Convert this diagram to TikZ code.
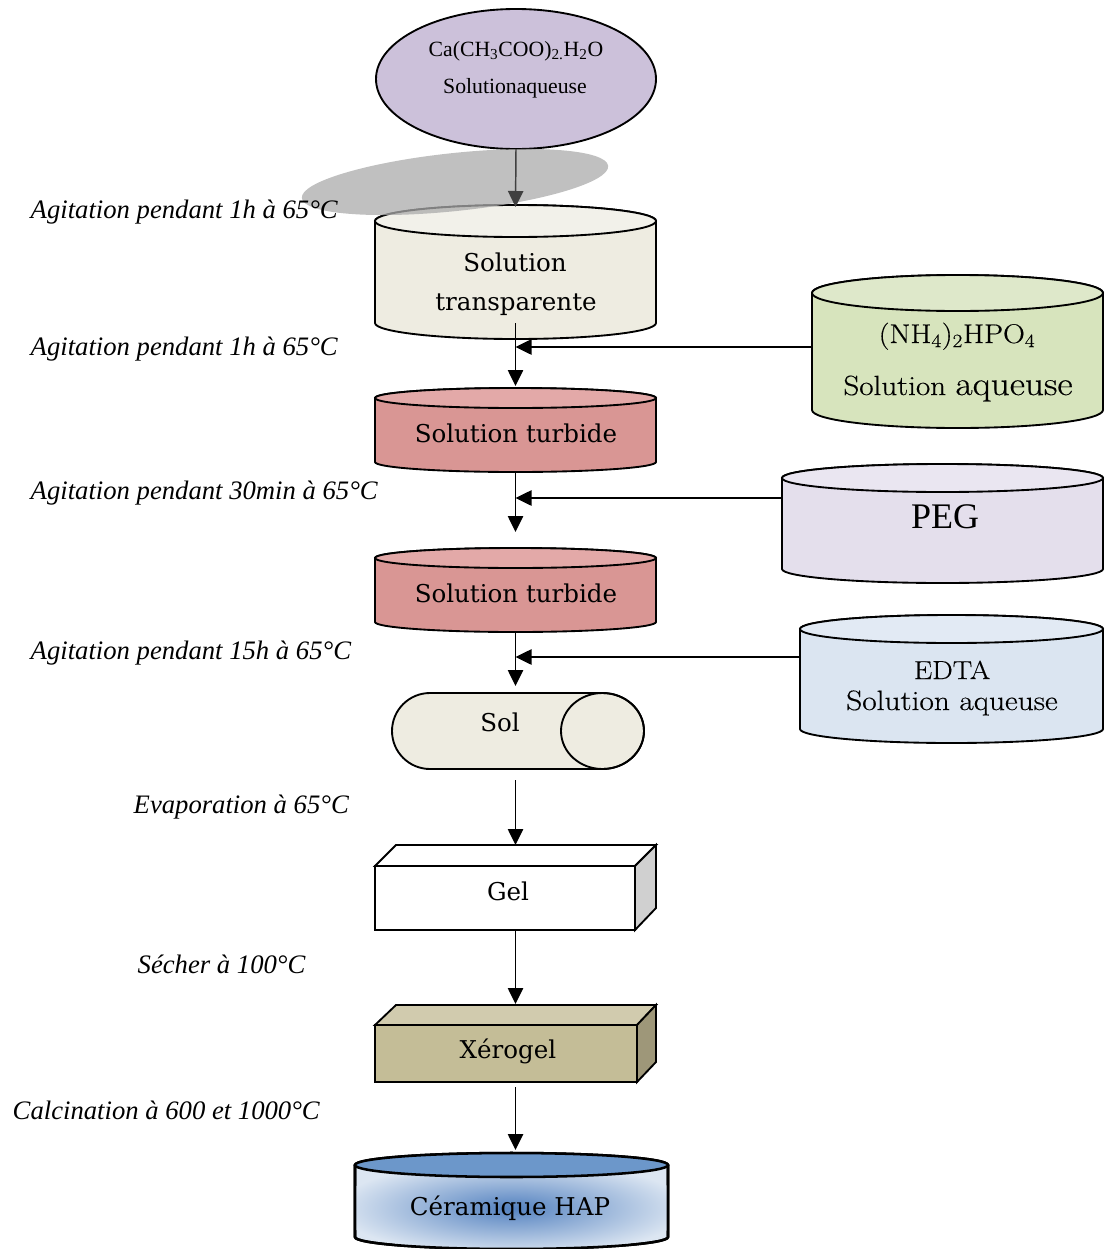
\documentclass[tikz,border=0pt]{standalone}
\usepackage{fontspec}
\newfontfamily\tms{Liberation Serif}
\newfontfamily\cmb{DejaVu Serif}
\newfontfamily\lmw{Latin Modern Roman}[FakeStretch=1.12,FakeBold=0.4]
\usetikzlibrary{arrows.meta,shapes.geometric}
\definecolor{srcfill}{HTML}{CCC1DA}
\definecolor{shadowc}{HTML}{ABABAB}
\definecolor{cylbody}{HTML}{EEECE1}
\definecolor{cyltop}{HTML}{F2F1EA}
\definecolor{turbbody}{HTML}{D99694}
\definecolor{turbtop}{HTML}{E3A9A8}
\definecolor{nhbody}{HTML}{D7E4BD}
\definecolor{nhtop}{HTML}{DEE8CA}
\definecolor{pegbody}{HTML}{E4DFEC}
\definecolor{pegtop}{HTML}{EAE6F1}
\definecolor{edtabody}{HTML}{DBE5F1}
\definecolor{edtatop}{HTML}{E2EAF4}
\definecolor{gelside}{HTML}{D0D0D0}
\definecolor{xfront}{HTML}{C4BD97}
\definecolor{xtop}{HTML}{D1CBAE}
\definecolor{xside}{HTML}{9E9779}
\definecolor{cerbody}{HTML}{DCE6F2}
\definecolor{certop}{HTML}{6C97CA}
\definecolor{cerglow}{HTML}{5482C0}
\definecolor{dkg}{HTML}{404040}
% vertical cylinder: x1 x2 ytop ybot ry body top
\newcommand{\vcyl}[7]{%
  \pgfmathsetmacro\cx{(#1+#2)/2}\pgfmathsetmacro\rx{(#2-#1)/2}%
  \draw[shp,fill=#6] (#1,#3) -- (#1,#4) arc[start angle=180,end angle=0,x radius=\rx,y radius=#5]
     -- (#2,#3) arc[start angle=0,end angle=-180,x radius=\rx,y radius=#5] -- cycle;
  \draw[shp,fill=#7] (\cx,#3) ellipse[x radius=\rx,y radius=#5];}
% invisible bounding node
\newcommand{\bnode}[5]{\node[inner sep=0pt,outer sep=0pt,draw=none,
   minimum width={(#4-#2)*0.75pt},minimum height={(#5-#3)*0.75pt}] (#1) at ({(#2+#4)/2},{(#3+#5)/2}) {};}
\begin{document}
\begin{tikzpicture}[x=0.75pt,y=-0.75pt,line width=1.1pt,
  shp/.style={line width=1.4pt},
  arr/.style={line width=1.1pt,-{Triangle[length=12pt,width=11.5pt]}},
  lbl/.style={anchor=base west,inner sep=0pt,font=\tms\itshape\fontsize{20}{24}\selectfont},
  ctxt/.style={anchor=base,inner sep=0pt,font=\cmb\fontsize{18.4}{22}\selectfont},
  ttxt/.style={anchor=base,inner sep=0pt,font=\tms\fontsize{16.3}{20}\selectfont},
  ltxt/.style={anchor=base,inner sep=0pt}]
\useasboundingbox (0,0) rectangle (1104,1249);
\fill[white] (0,0) rectangle (1104,1249);

% source ellipse
\draw[shp,fill=srcfill] (516,79) ellipse[x radius=140,y radius=70];
\node[ttxt] (tsrc1) at (516,56) {Ca(CH\textsubscript{3}COO)\textsubscript{2.}H\textsubscript{2}O};
\node[ttxt] (tsrc2) at (515,93) {Solutionaqueuse};

% cylinder 1
\vcyl{375}{656}{221}{323}{16}{cylbody}{cyltop}
\node[ctxt] (tc1a) at (515,271) {Solution};
\node[ctxt] (tc1b) at (516,310) {transparente};

% shadow
\fill[shadowc,opacity=0.75] (455,182) ellipse[x radius=154,y radius=29,rotate=6];

% turbide 1 and 2
\vcyl{375}{656}{398}{462}{10}{turbbody}{turbtop}
\node[ctxt] (tt1) at (516,442) {Solution turbide};
\vcyl{375}{656}{558}{622}{10}{turbbody}{turbtop}
\node[ctxt] (tt2) at (516,602) {Solution turbide};

% right cylinders
\vcyl{812}{1103}{293}{410}{18}{nhbody}{nhtop}
\node[ltxt,font=\lmw\fontsize{20.3}{24}\selectfont] (tnh1) at (957,343) {(NH\textsubscript{4})\textsubscript{2}HPO\textsubscript{4}};
\node[ltxt] (tnh2) at (958,395) {\lmw\fontsize{20.8}{24}\selectfont Solution \fontsize{25}{28}\selectfont aqueuse};
\vcyl{782}{1103}{478}{569}{14}{pegbody}{pegtop}
\node[ltxt,font=\tms\fontsize{27}{30}\selectfont] (tpeg) at (945,528) {PEG};
\vcyl{800}{1103}{629}{729}{14}{edtabody}{edtatop}
\node[ltxt,font=\lmw\fontsize{19.5}{23}\selectfont] (tedta1) at (952,679) {EDTA};
\node[ltxt,font=\lmw\fontsize{21}{25}\selectfont] (tedta2) at (952,710) {Solution aqueuse};

% Sol
\draw[shp,fill=cylbody] (430,693) -- (602.5,693) arc[start angle=-90,end angle=90,x radius=41.5,y radius=38]
   -- (430,769) arc[start angle=90,end angle=270,x radius=38,y radius=38] -- cycle;
\draw[shp] (602.5,731) ellipse[x radius=41.5,y radius=38];
\node[ctxt] (tsol) at (500,731) {Sol};

% Gel
\draw[shp,fill=white] (375,866) rectangle (635,930);
\draw[shp,fill=white] (375,866) -- (396,845) -- (656,845) -- (635,866) -- cycle;
\draw[shp,fill=gelside] (635,866) -- (656,845) -- (656,908) -- (635,930) -- cycle;
\node[ctxt] (tgel) at (508,900) {Gel};

% Xerogel
\draw[shp,fill=xfront] (375,1025) rectangle (637,1082);
\draw[shp,fill=xtop] (375,1025) -- (396,1005) -- (656,1005) -- (637,1025) -- cycle;
\draw[shp,fill=xside] (637,1025) -- (656,1005) -- (656,1062) -- (637,1082) -- cycle;
\node[ctxt] (txero) at (508,1058) {Xérogel};

% Ceramique
\begin{scope}[line width=1.9pt]
\draw[fill=cerbody] (355,1165) -- (355,1237) arc[start angle=180,end angle=0,x radius=156.5,y radius=12]
   -- (668,1165) arc[start angle=0,end angle=-180,x radius=156.5,y radius=12] -- cycle;
\begin{scope}
\clip (355,1165) -- (355,1237) arc[start angle=180,end angle=0,x radius=156.5,y radius=12]
   -- (668,1165) -- cycle;
\shade[inner color=cerglow,outer color=cerbody] (512,1208) ellipse[x radius=175,y radius=48];
\end{scope}
\draw (355,1165) -- (355,1237) arc[start angle=180,end angle=0,x radius=156.5,y radius=12] -- (668,1165);
\draw[fill=certop] (511.5,1165) ellipse[x radius=156.5,y radius=12];
\end{scope}
\node[ctxt] (tcer) at (510,1215) {Céramique HAP};

% bounding nodes for connectors
\bnode{src}{376}{9}{656}{149}
\bnode{cyl1}{375}{207}{656}{323}
\bnode{turb1}{375}{386}{656}{472}
\bnode{turb2}{375}{532}{656}{633}
\bnode{sol}{375}{686}{656}{780}
\bnode{gel}{375}{845}{656}{930}
\bnode{xero}{375}{1004}{656}{1087}
\bnode{cer}{375}{1150}{656}{1249}
\bnode{nh}{812}{273}{1103}{421}
\bnode{peg}{782}{461}{1103}{535}
\bnode{edta}{800}{615}{1103}{699}

% connectors
\draw[arr,draw=dkg,fill=dkg] (src.south) -- (cyl1.north);
\draw[arr] (cyl1.south) -- (turb1.north);
\draw[arr] (turb1.south) -- (turb2.north);
\draw[arr] (turb2.south) -- (sol.north);
\draw[arr] (sol.south) -- (gel.north);
\draw[arr] (gel.south) -- (xero.north);
\draw[arr] (xero.south) -- (cer.north);
\draw[arr] (nh.west) -- (nh.west -| cyl1.south);
\draw[arr] (peg.west) -- (peg.west -| cyl1.south);
\draw[arr] (edta.west) -- (edta.west -| cyl1.south);

% labels
\node[lbl] (l1) at (30,218) {Agitation pendant 1h à 65°C};
\node[lbl] (l2) at (30,355) {Agitation pendant 1h à 65°C};
\node[lbl] (l3) at (30,499) {Agitation pendant 30min à 65°C};
\node[lbl] (l4) at (30,659) {Agitation pendant 15h à 65°C};
\node[lbl] (l5) at (133,813) {Evaporation à 65°C};
\node[lbl] (l6) at (137,973) {Sécher à 100°C};
\node[lbl] (l7) at (12,1119) {Calcination à 600 et 1000°C};
\end{tikzpicture}
\end{document}
